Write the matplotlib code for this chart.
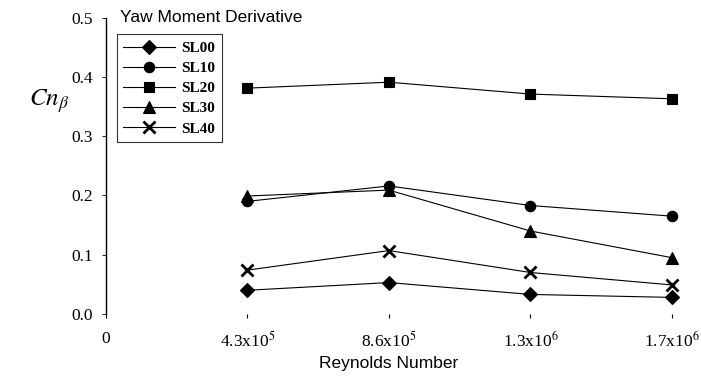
import matplotlib
matplotlib.use("Agg")
import matplotlib.pyplot as plt

plt.rcParams['mathtext.fontset'] = 'stix'

# Reynolds number categories (x=0 is the origin label only)
x_labels = ["0", r"4.3x10$^5$", r"8.6x10$^5$", r"1.3x10$^6$", r"1.7x10$^6$"]
x_pos = [1, 2, 3, 4]

# Yaw moment derivative per configuration
sl00 = [0.040, 0.053, 0.033, 0.028]
sl10 = [0.190, 0.216, 0.183, 0.165]
sl20 = [0.381, 0.391, 0.371, 0.363]
sl30 = [0.199, 0.209, 0.140, 0.095]
sl40 = [0.074, 0.107, 0.070, 0.049]

series = [
    ("SL00", sl00, "D", 7),
    ("SL10", sl10, "o", 7.5),
    ("SL20", sl20, "s", 7.5),
    ("SL30", sl30, "^", 8),
    ("SL40", sl40, "x", 9),
]

fig = plt.figure(figsize=(7.01, 3.80), dpi=100)
ax = fig.add_axes([0.151, 0.1737, 0.8076, 0.78])

for name, vals, mk, ms in series:
    ax.plot(x_pos, vals, color="black", lw=0.8, marker=mk, markersize=ms,
            markeredgewidth=2 if mk == "x" else 0.8,
            markerfacecolor="black", markeredgecolor="black", label=name,
            clip_on=False)

ax.set_xlim(0, 4)
ax.set_ylim(0, 0.5)
ax.set_xticks(range(5))
ax.set_xticklabels(x_labels)
ax.set_yticks([0.0, 0.1, 0.2, 0.3, 0.4, 0.5])
ax.set_yticklabels(["0.0", "0.1", "0.2", "0.3", "0.4", "0.5"])

for lab in ax.get_xticklabels() + ax.get_yticklabels():
    lab.set_fontfamily("Liberation Serif")
    lab.set_fontsize(12.5)

ax.spines["top"].set_visible(False)
ax.spines["right"].set_visible(False)
ax.spines["bottom"].set_visible(False)
ax.spines["left"].set_linewidth(1.0)
ax.tick_params(axis="y", direction="out", length=3, width=0.6, pad=6)
ax.tick_params(axis="x", direction="out", length=3, width=0.8, pad=9)

ax.set_xlabel("Reynolds Number", fontfamily="Liberation Sans", fontsize=12.5, labelpad=4)

fig.text(0.042, 0.735, r"$Cn_\beta$", fontsize=18, ha="left", va="center")
ax.text(0.025, 1.0, "Yaw Moment Derivative", transform=ax.transAxes,
        fontfamily="Liberation Sans", fontsize=12.5, ha="left", va="center")

leg = ax.legend(loc="upper left", bbox_to_anchor=(0.019, 0.943), frameon=True,
                fancybox=False, edgecolor="black", handlelength=3.4,
                handletextpad=0.4, borderpad=0.45, labelspacing=0.42,
                borderaxespad=0.0,
                prop={"family": "Liberation Serif", "weight": "bold", "size": 11})
leg.get_frame().set_linewidth(0.8)

fig.savefig("out.png", dpi=100, facecolor="white")
